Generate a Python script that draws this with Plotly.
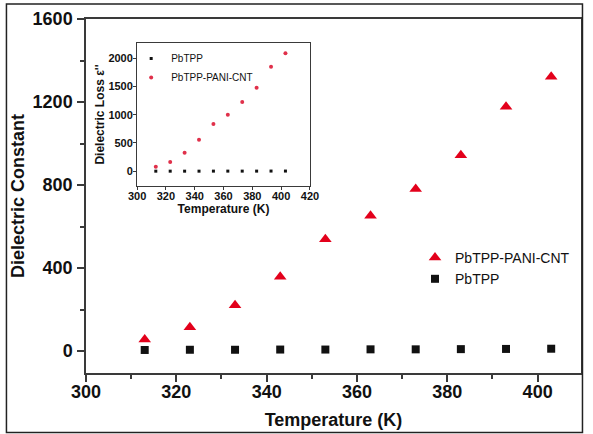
import plotly.graph_objects as go

# ---- data ----
temperature = [313, 323, 333, 343, 353, 363, 373, 383, 393, 403]
const_pani_cnt = [55, 114, 220, 358, 538, 652, 781, 943, 1177, 1322]
const_pbtpp = [5, 6, 6, 7, 7, 8, 8, 9, 10, 11]
loss_pbtpp = [2, 2, 2, 2, 3, 3, 3, 3, 4, 4]
loss_pani_cnt = [81, 164, 329, 558, 836, 1000, 1224, 1477, 1848, 2084]

name_a = "PbTPP-PANI-CNT"
name_b = "PbTPP"

# plot area geometry (pixels)
W, H = 593, 434
ml, mr, mt, mb = 86, 3, 19, 61
pw, ph = W - ml - mr, H - mt - mb

def px(x):
    return (x - ml) / pw

def py(y):
    return (H - mb - y) / ph

RED = "#e3001b"
fig = go.Figure()

fig.add_trace(go.Scatter(x=temperature, y=const_pani_cnt, mode="markers", name=name_a,
                         marker=dict(symbol="triangle-up", size=11, color=RED),
                         legend="legend"))
fig.add_trace(go.Scatter(x=temperature, y=const_pbtpp, mode="markers", name=name_b,
                         marker=dict(symbol="square", size=8, color="#111111"),
                         legend="legend"))

fig.add_trace(go.Scatter(x=temperature, y=loss_pbtpp, mode="markers", name=name_b,
                         marker=dict(symbol="square", size=3, color="#111111"),
                         xaxis="x2", yaxis="y2", legend="legend2"))
fig.add_trace(go.Scatter(x=temperature, y=loss_pani_cnt, mode="markers", name=name_a,
                         marker=dict(symbol="circle", size=4, color="#e0304a"),
                         xaxis="x2", yaxis="y2", legend="legend2"))

axis_common = dict(showline=True, mirror=True, linecolor="#3a3a3a", linewidth=1.5,
                   ticks="outside", tickcolor="#3a3a3a", showgrid=False, zeroline=False)

fig.update_layout(
    width=W, height=H,
    margin=dict(l=ml, r=mr, t=mt, b=mb),
    paper_bgcolor="white", plot_bgcolor="white",
    font=dict(family="Liberation Sans, Arial, sans-serif", color="#111111"),
    xaxis=dict(axis_common, range=[300, 409.6], dtick=20, tick0=300, ticklen=7, tickwidth=1.5,
               minor=dict(dtick=10, ticks="outside", ticklen=4, tickcolor="#3a3a3a"),
               tickfont=dict(size=18, family="Liberation Sans, Arial", color="#111"),
               ticklabelstandoff=-5,
               title=dict(text="<b>Temperature (K)</b>", font=dict(size=18), standoff=12),
               tickprefix="<b>", ticksuffix="</b>"),
    yaxis=dict(axis_common, range=[-106, 1600], dtick=400, tick0=0, ticklen=7, tickwidth=1.5,
               minor=dict(dtick=200, ticks="outside", ticklen=4, tickcolor="#3a3a3a"),
               tickfont=dict(size=18, family="Liberation Sans, Arial", color="#111"),
               ticklabelstandoff=1,
               title=dict(text="<b>Dielectric Constant</b>", font=dict(size=18), standoff=3),
               tickprefix="<b>", ticksuffix="</b>"),
    xaxis2=dict(axis_common, domain=[px(138), px(314)], anchor="y2", range=[300, 420],
                dtick=20, ticklen=3, linewidth=1, tickwidth=1,
                tickfont=dict(size=11), tickprefix="<b>", ticksuffix="</b>",
                ticklabelstandoff=-3,
                title=dict(text="<b>Temperature (K)</b>", font=dict(size=12), standoff=0)),
    yaxis2=dict(axis_common, domain=[py(186), py(43)], anchor="x2", range=[-260, 2267],
                dtick=500, ticklen=3, linewidth=1, tickwidth=1,
                tickfont=dict(size=11), tickprefix="<b>", ticksuffix="</b>",
                ticklabelstandoff=-2,
                title=dict(text="<b>Dielectric Loss ε''</b>", font=dict(size=12), standoff=1),
                ),
    legend=dict(x=px(421), y=py(268.5), xanchor="left", yanchor="middle",
                font=dict(size=14), bgcolor="rgba(0,0,0,0)", tracegroupgap=0),
    legend2=dict(x=px(132), y=py(44), xanchor="left", yanchor="top",
                 font=dict(size=10), bgcolor="rgba(0,0,0,0)", tracegroupgap=0),
    showlegend=True,
)

fig.add_shape(type="rect", xref="paper", yref="paper",
              x0=px(5), x1=px(591.5), y0=py(432.5), y1=py(4),
              line=dict(color="#222222", width=1.5), layer="above")

fig.write_html("out.html", post_script="document.body.style.margin='0';",
               config={"displayModeBar": False})
